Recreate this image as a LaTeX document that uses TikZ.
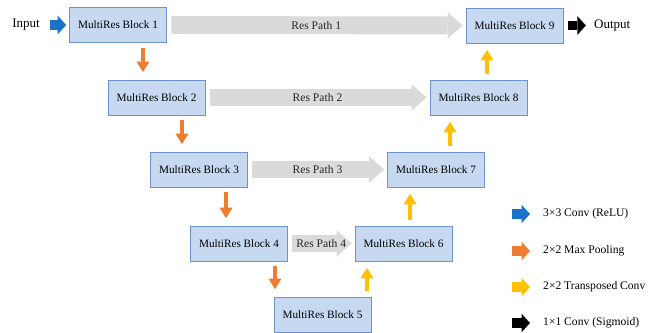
\documentclass[tikz,border=0pt]{standalone}
\usepackage{fontspec}
\setmainfont{Liberation Serif}
\usetikzlibrary{arrows.meta}

\definecolor{blockfill}{RGB}{198,217,241}
\definecolor{blockline}{RGB}{110,145,210}
\definecolor{pathgray}{RGB}{218,218,218}
\definecolor{convblue}{RGB}{25,115,200}
\definecolor{poolorange}{RGB}{237,125,49}
\definecolor{upyellow}{RGB}{255,192,0}

\begin{document}
\begin{tikzpicture}[x=0.02cm, y=-0.02cm, font=\fontsize{6.6}{7.8}\selectfont]
\tikzset{el/.style={draw=blockline, fill=blockfill, rectangle, minimum width=1.94cm, minimum height=.7cm, inner sep=1pt,
 font=\fontsize{6.4}{7.5}\selectfont},
respath/.style={pathgray, line width=10.2pt, shorten <=2.6pt, shorten >=1.7pt,
 -{Triangle[length=8.5pt, width=15pt, line width=0pt]}},
reslabel/.style={midway, text=black!85},
pool/.style={poolorange, line width=2.5pt, shorten <=2.8pt, shorten >=4.3pt,
 -{Triangle[length=6pt, width=7.5pt, line width=0pt]}},
upconv/.style={upyellow, line width=2.5pt, shorten <=3.4pt, shorten >=3.7pt,
 -{Triangle[length=6pt, width=7.5pt, line width=0pt]}},
fat/.style={line width=5.6pt, -{Triangle[length=4.8pt, width=10.6pt, line width=0pt]}},
io/.style={font=\fontsize{7.4}{8.5}\selectfont}}

\useasboundingbox (0,0) rectangle (659,333);

% Encoder
\node[el] (b1) at (118,25) {MultiRes Block 1};
\node[el] (b2) at (156.5,97.5) {MultiRes Block 2};
\node[el] (b3) at (199,169.5) {MultiRes Block 3};
\node[el] (b4) at (239,243.5) {MultiRes Block 4};
\node[el] (b5) at (322.5,314.5) {MultiRes Block 5};

% Decoder
\node[el] (b6) at (403.5,243.5) {MultiRes Block 6};
\node[el] (b7) at (436,169.5) {MultiRes Block 7};
\node[el] (b8) at (478.5,97.5) {MultiRes Block 8};
\node[el] (b9) at (514.5,25.5) {MultiRes Block 9};

% Input and output
\node[io, anchor=east] (in) at (46,25) {Input};
\node[io, anchor=west] (out) at (588,25.5) {Output};

% Res paths
\draw[respath] (b1) -- (b9) node[reslabel] {Res Path 1};
\draw[respath] (b2) -- (b8) node[reslabel] {Res Path 2};
\draw[respath] (b3) -- (b7) node[reslabel] {Res Path 3};
\draw[respath] (b4) -- (b6) node[reslabel] {Res Path 4};

% Pooling
\draw[pool] (b1.south -| 143,0) -- (b2.north -| 143,0);
\draw[pool] (b2.south -| 182,0) -- (b3.north -| 182,0);
\draw[pool] (b3.south -| 226,0) -- (b4.north -| 226,0);
\draw[pool] (b4.south -| 275,0) -- (b5.north -| 275,0);

% Transposed conv
\draw[upconv] (b5.north -| 367,0) -- (b6.south -| 367,0);
\draw[upconv] (b6.north -| 410,0) -- (b7.south -| 410,0);
\draw[upconv] (b7.north -| 450,0) -- (b8.south -| 450,0);
\draw[upconv] (b8.north -| 487,0) -- (b9.south -| 487,0);

\draw[fat, convblue, shorten <=2.2pt, shorten >=1.7pt] (in) -- (b1);
\draw[fat, black, shorten <=2.8pt, shorten >=1.2pt] (b9) -- (out);

% Legend
\foreach \y/\col/\txt in {214/convblue/{3×3 Conv (ReLU)}, 251/poolorange/{2×2 Max Pooling},
 287/upyellow/{2×2 Transposed Conv}, 323/black/{1×1 Conv (Sigmoid)}}
{
\node[anchor=west] (key\y) at (537,\y) {\txt};
\draw[fat, \col, shorten >=4pt] (512,\y) -- (key\y);
}

\end{tikzpicture}
\end{document}
